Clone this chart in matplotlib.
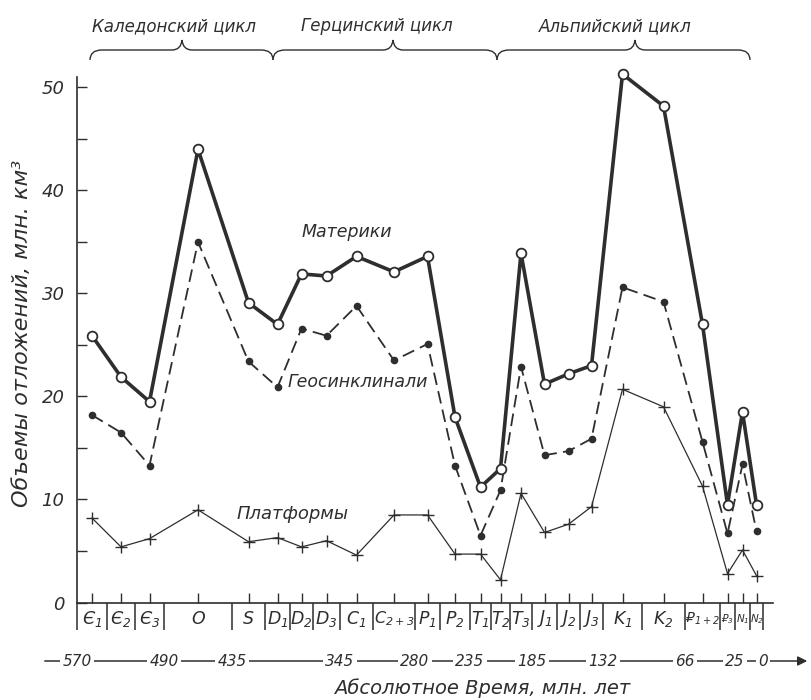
import numpy as np
import matplotlib
matplotlib.use('Agg')
import matplotlib.pyplot as plt
from matplotlib.path import Path
from matplotlib.patches import PathPatch

# периоды (подписи ячеек под осью)
periods = ['Є_1', 'Є_2', 'Є_3', 'O', 'S', 'D_1', 'D_2', 'D_3', 'C_1', 'C_{2+3}', 'P_1', 'P_2',
           'T_1', 'T_2', 'T_3', 'J_1', 'J_2', 'J_3', 'K_1', 'K_2', '₽_{1+2}', '₽_3', 'N_1', 'N_2']
# границы периодов по горизонтальной шкале (условные единицы)
bounds = [77, 107, 135, 164, 232, 265, 290, 313, 340, 373, 415, 440, 470, 491,
          510, 532, 557, 580, 603, 642, 685, 720, 735, 750, 763]
# абсолютное время на границах, млн. лет
ages = ['570', '490', '435', '345', '280', '235', '185', '132', '66', '25', '0']
age_bounds = [0, 3, 4, 8, 10, 12, 15, 18, 20, 22, 24]  # индекс границы

# объемы отложений, млн. км3
materiki = [25.9, 21.9, 19.5, 44.0, 29.1, 27.0, 31.9, 31.7, 33.6, 32.1, 33.6, 18.0,
            11.2, 13.0, 33.9, 21.2, 22.2, 23.0, 51.3, 48.2, 27.0, 9.5, 18.5, 9.5]
geosinkl = [18.2, 16.5, 13.3, 35.0, 23.4, 20.9, 26.6, 25.9, 28.8, 23.5, 25.1, 13.3,
            6.5, 10.9, 22.9, 14.3, 14.7, 15.9, 30.6, 29.2, 15.6, 6.7, 13.4, 6.9]
platform = [8.2, 5.4, 6.2, 9.0, 5.9, 6.3, 5.4, 6.0, 4.6, 8.5, 8.5, 4.7,
            4.7, 2.2, 10.6, 6.8, 7.6, 9.3, 20.7, 19.0, 11.3, 2.8, 5.1, 2.6]

# тектонические циклы: (название, начало, середина, конец) по шкале
cycles = [('Каледонский цикл', 90, 182, 273),
          ('Герцинский цикл', 273, 393, 497),
          ('Альпийский цикл', 497, 635, 750)]

ink = '#2e2e2e'
plt.rcParams['font.family'] = ['DejaVu Sans', 'Noto Sans']
plt.rcParams['font.style'] = 'italic'
plt.rcParams['mathtext.default'] = 'it'

fig = plt.figure(figsize=(8.11, 7.0), dpi=100)
W, H = 811, 700
# оси: 10.3 пикселя на единицу
ax = fig.add_axes([77 / W, (H - 602.5) / H, (773 - 77) / W, 51 * 10.3 / H])
ax.set_xlim(77, 773)
ax.set_ylim(0, 51)

mids = [(bounds[i] + bounds[i + 1]) / 2 for i in range(len(periods))]

ax.plot(mids, platform, color=ink, lw=0.9, marker='+', ms=9, mew=1.0, clip_on=False, zorder=3)
ax.plot(mids, geosinkl, color=ink, lw=1.3, dashes=(7, 3.5), marker='o', ms=4.5,
        mfc=ink, mec=ink, clip_on=False, zorder=4)
ax.plot(mids, materiki, color=ink, lw=2.6, marker='o', ms=7, mfc='white', mec=ink,
        mew=1.3, clip_on=False, zorder=5)

for s in ['top', 'right']:
    ax.spines[s].set_visible(False)
for s in ['left', 'bottom']:
    ax.spines[s].set_color(ink)
    ax.spines[s].set_linewidth(1.2)

ax.set_yticks(range(0, 51, 10))
ax.set_yticks(range(5, 50, 10), minor=True)
ax.tick_params(axis='y', which='both', direction='in', length=7, width=1, color=ink,
               labelsize=13, labelcolor=ink, pad=9)
ax.set_xticks(mids)
ax.set_xticklabels([])
ax.tick_params(axis='x', direction='in', length=7, width=1, color=ink)

# ячейки с индексами периодов под осью
ax.vlines(bounds, -2.7, 0, color=ink, lw=1.1, clip_on=False)
for i, p in enumerate(periods):
    w = bounds[i + 1] - bounds[i]
    if w < 18:
        fs = 7.5
    elif '+' in p:
        fs = 10 if w < 38 else 11.5
    else:
        fs = 12.5
    ax.text(mids[i], -1.6, '$' + p + '$', ha='center', va='center', fontsize=fs,
            color=ink, clip_on=False)

# надписи и скобки поверх — в пикселях
deco = fig.add_axes([0, 0, 1, 1], zorder=10)
deco.set_xlim(0, W)
deco.set_ylim(H, 0)
deco.axis('off')
deco.patch.set_alpha(0)

deco.text(347, 232, 'Материки', ha='center', va='center', fontsize=12.5, color=ink)
deco.text(358, 382, 'Геосинклинали', ha='center', va='center', fontsize=12.5, color=ink)
deco.text(293, 514, 'Платформы', ha='center', va='center', fontsize=13, color=ink)

deco.text(22, 333, 'Объемы отложений, млн. км³', rotation=90, ha='center', va='center',
          fontsize=16, color=ink)
deco.text(482, 688, 'Абсолютное Время, млн. лет', ha='center', va='center',
          fontsize=14, color=ink)

# шкала абсолютного времени
deco.annotate('', xy=(810, 661), xytext=(42, 661),
              arrowprops=dict(arrowstyle='-|>', color=ink, lw=1.1, mutation_scale=14))
for a, b in zip(ages, age_bounds):
    deco.text(bounds[b], 661, a, ha='center', va='center', fontsize=11, color=ink,
              bbox=dict(facecolor='white', edgecolor='none', pad=1.5))

# фигурные скобки циклов
for name, x0, xm, x1 in cycles:
    verts = [(x0, 60), (x0, 50), (x0 + 12, 50),
             (xm - 10, 50), (xm - 1, 50), (xm, 40),
             (xm + 1, 50), (xm + 10, 50),
             (x1 - 12, 50), (x1, 50), (x1, 60)]
    codes = [Path.MOVETO, Path.CURVE3, Path.CURVE3,
             Path.LINETO, Path.CURVE3, Path.CURVE3,
             Path.CURVE3, Path.CURVE3,
             Path.LINETO, Path.CURVE3, Path.CURVE3]
    deco.add_patch(PathPatch(Path(verts, codes), fc='none', ec=ink, lw=1.0))
    deco.text((x0 + x1) / 2 - 8, 26, name, ha='center', va='center', fontsize=12, color=ink)

fig.savefig('out.png', dpi=100, facecolor='white')
